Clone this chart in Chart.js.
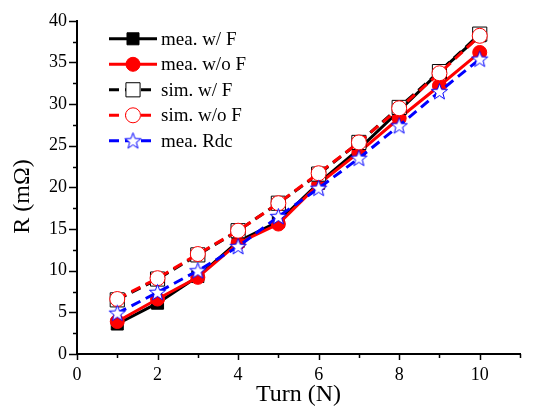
<!DOCTYPE html>
<html>
<head>
<meta charset="utf-8">
<script src="https://cdn.jsdelivr.net/npm/chart.js@4/dist/chart.umd.min.js"></script>
<style>
  html, body { margin: 0; padding: 0; background: #fff; font-family: "Liberation Serif", serif; }
  #wrap { width: 533px; height: 413px; }
  .pre { position: absolute; left: -1000px; top: -1000px; font-family: "Liberation Serif"; }
</style>
</head>
<body>
<span class="pre">0123456789 mea. w/ F R (mΩ)</span>
<div id="wrap"><canvas id="c" width="533" height="413"></canvas></div>
<script>
// ---- data ----
const turns = [1, 2, 3, 4, 5, 6, 7, 8, 9, 10];
const meaWithF = [3.6, 6.1, 9.3, 13.5, 15.9, 20.5, 24.6, 29.2, 33.9, 38.2];
const meaWithoutF = [3.9, 6.6, 9.2, 13.3, 15.6, 20.4, 24.2, 28.3, 32.2, 36.2];
const simWithF = [6.5, 9.0, 11.9, 14.8, 18.1, 21.6, 25.4, 29.6, 33.9, 38.4];
const simWithoutF = [6.6, 9.1, 12.0, 14.8, 18.1, 21.7, 25.4, 29.5, 33.7, 38.2];
const meaRdc = [4.9, 7.4, 10.0, 12.9, 16.5, 19.9, 23.5, 27.4, 31.5, 35.4];
const seriesLabels = ['mea. w/ F', 'mea. w/o F', 'sim. w/ F', 'sim. w/o F', 'mea. Rdc'];
const xTickValues = [0, 2, 4, 6, 8, 10];
const yTickValues = [0, 5, 10, 15, 20, 25, 30, 35, 40];
const xTitle = 'Turn (N)';
const yTitle = 'R (mΩ)';

const FONT = '"Liberation Serif", "Times New Roman", serif';

// star marker image
function makeStar() {
  const c = document.createElement('canvas');
  c.width = 19; c.height = 19;
  const g = c.getContext('2d');
  const cx = 9.5, cy = 10, R = 8.5, r = 3.5;
  g.beginPath();
  for (let i = 0; i < 10; i++) {
    const ang = -Math.PI / 2 + i * Math.PI / 5;
    const rad = i % 2 === 0 ? R : r;
    const px = cx + rad * Math.cos(ang), py = cy + rad * Math.sin(ang);
    if (i === 0) g.moveTo(px, py); else g.lineTo(px, py);
  }
  g.closePath();
  g.fillStyle = '#fff';
  g.fill();
  g.strokeStyle = '#0000ff';
  g.lineWidth = 1;
  g.stroke();
  return c;
}

function pts(arr) { return turns.map((t, i) => ({ x: t, y: arr[i] })); }

function drawMarker(ctx, ds, x, y) {
  ctx.save();
  ctx.setLineDash([]);
  ctx.lineWidth = 1;
  ctx.fillStyle = ds.pointBackgroundColor;
  ctx.strokeStyle = ds.pointBorderColor;
  if (ds.pointStyle === 'rect') {
    const h = Math.SQRT1_2 * ds.pointRadius;
    ctx.beginPath();
    ctx.rect(x - h, y - h, 2 * h, 2 * h);
    ctx.fill(); ctx.stroke();
  } else if (ds.pointStyle === 'circle') {
    ctx.beginPath();
    ctx.arc(x, y, ds.pointRadius, 0, Math.PI * 2);
    ctx.fill(); ctx.stroke();
  } else {
    ctx.drawImage(ds.pointStyle, x - ds.pointStyle.width / 2, y - ds.pointStyle.height / 2);
  }
  ctx.restore();
}

const legendPlugin = {
  id: 'insideLegend',
  afterDraw(chart) {
    const ctx = chart.ctx;
    const area = chart.chartArea;
    const x0 = area.left + 32, x1 = area.left + 80, xm = (x0 + x1) / 2;
    let y = area.top + 18;
    ctx.save();
    chart.data.datasets.forEach(ds => {
      ctx.beginPath();
      ctx.strokeStyle = ds.borderColor;
      ctx.lineWidth = ds.borderWidth;
      ctx.setLineDash(ds.borderDash || []);
      ctx.moveTo(x0, y); ctx.lineTo(x1, y);
      ctx.stroke();
      drawMarker(ctx, ds, xm, y);
      ctx.fillStyle = '#000';
      ctx.font = '19px ' + FONT;
      ctx.textBaseline = 'middle';
      ctx.textAlign = 'left';
      ctx.fillText(ds.label, x1 + 4, y + 1);
      y += 25.5;
    });
    ctx.restore();
  }
};

const tickMarks = {
  id: 'tickMarks',
  afterDraw(chart) {
    const ctx = chart.ctx, xs = chart.scales.x, ys = chart.scales.y;
    ctx.save();
    ctx.strokeStyle = '#000';
    ctx.lineWidth = 1.5;
    ctx.setLineDash([]);
    ctx.beginPath();
    for (let v = xs.min; v <= xs.max; v += 1) {
      const px = Math.round(xs.getPixelForValue(v)) + 0.5;
      const len = xTickValues.includes(v) ? 6 : 4;
      ctx.moveTo(px, xs.top); ctx.lineTo(px, xs.top + len);
    }
    for (let v = ys.min; v <= ys.max; v += 2.5) {
      const py = Math.round(ys.getPixelForValue(v)) + 0.5;
      const len = yTickValues.includes(v) ? 8 : 4;
      ctx.moveTo(ys.right - len, py); ctx.lineTo(ys.right, py);
    }
    ctx.stroke();
    // y-axis title
    ctx.save();
    ctx.translate(23, (chart.chartArea.top + chart.chartArea.bottom) / 2 + 9);
    ctx.rotate(-Math.PI / 2);
    ctx.fillStyle = '#000';
    ctx.font = '24px ' + FONT;
    ctx.textAlign = 'center';
    ctx.textBaseline = 'middle';
    ctx.fillText(yTitle, 0, 0);
    ctx.restore();
    ctx.restore();
  }
};

function build() {
  const starImg = makeStar();
  const datasets = [
    { label: seriesLabels[0], data: pts(meaWithF), borderColor: '#000', backgroundColor: '#000',
      borderWidth: 3, pointStyle: 'rect', pointRadius: 8.5, pointBorderWidth: 1,
      pointBackgroundColor: '#000', pointBorderColor: '#000', order: 5 },
    { label: seriesLabels[1], data: pts(meaWithoutF), borderColor: '#ff0000', backgroundColor: '#ff0000',
      borderWidth: 3, pointStyle: 'circle', pointRadius: 7, pointBorderWidth: 1,
      pointBackgroundColor: '#ff0000', pointBorderColor: '#ff0000', order: 4 },
    { label: seriesLabels[2], data: pts(simWithF), borderColor: '#000', backgroundColor: '#fff',
      borderWidth: 3, borderDash: [10, 6], pointStyle: 'rect', pointRadius: 10, pointBorderWidth: 1,
      pointBackgroundColor: '#fff', pointBorderColor: '#000', order: 3 },
    { label: seriesLabels[3], data: pts(simWithoutF), borderColor: '#ff0000', backgroundColor: '#fff',
      borderWidth: 3, borderDash: [10, 6], pointStyle: 'circle', pointRadius: 7.5, pointBorderWidth: 1,
      pointBackgroundColor: '#fff', pointBorderColor: '#ff0000', order: 2 },
    { label: seriesLabels[4], data: pts(meaRdc), borderColor: '#0000ff', backgroundColor: '#fff',
      borderWidth: 3, borderDash: [10, 6], pointStyle: starImg, pointRadius: 8,
      pointBackgroundColor: '#fff', pointBorderColor: '#0000ff', order: 1 }
  ];

  new Chart(document.getElementById('c'), {
    type: 'line',
    data: { datasets },
    plugins: [tickMarks, legendPlugin],
    options: {
      responsive: false,
      animation: false,
      devicePixelRatio: 1,
      layout: { padding: { top: 20, right: 13, left: 0, bottom: 0 } },
      plugins: { legend: { display: false }, tooltip: { enabled: false } },
      elements: { line: { tension: 0 } },
      scales: {
        x: {
          type: 'linear', min: 0, max: 11,
          afterFit: s => { s.height = 59; },
          grid: { drawOnChartArea: false, drawTicks: false },
          border: { display: true, color: '#000', width: 2 },
          ticks: {
            stepSize: 1, autoSkip: false, maxRotation: 0, padding: 10, color: '#000',
            font: { family: FONT, size: 18 },
            callback: v => xTickValues.includes(v) ? String(v) : ''
          },
          title: { display: true, text: xTitle, color: '#000',
            font: { family: FONT, size: 24 }, padding: { top: 0, bottom: 4 } }
        },
        y: {
          type: 'linear', min: 0, max: 40,
          afterFit: s => { s.width = 77; },
          grid: { drawOnChartArea: false, drawTicks: false },
          border: { display: true, color: '#000', width: 2 },
          ticks: {
            stepSize: 5, autoSkip: false, padding: 10, color: '#000',
            font: { family: FONT, size: 18 },
            callback: v => yTickValues.includes(v) ? String(v) : ''
          },
          title: { display: false }
        }
      }
    }
  });
}

Promise.all([
  document.fonts.load('18px "Liberation Serif"', '0123456789'),
  document.fonts.load('24px "Liberation Serif"', 'Turn (N) R (mΩ)'),
  document.fonts.load('19px "Liberation Serif"', 'mea. w/ F sim Rdc')
]).catch(() => {}).then(build);
</script>
</body>
</html>
